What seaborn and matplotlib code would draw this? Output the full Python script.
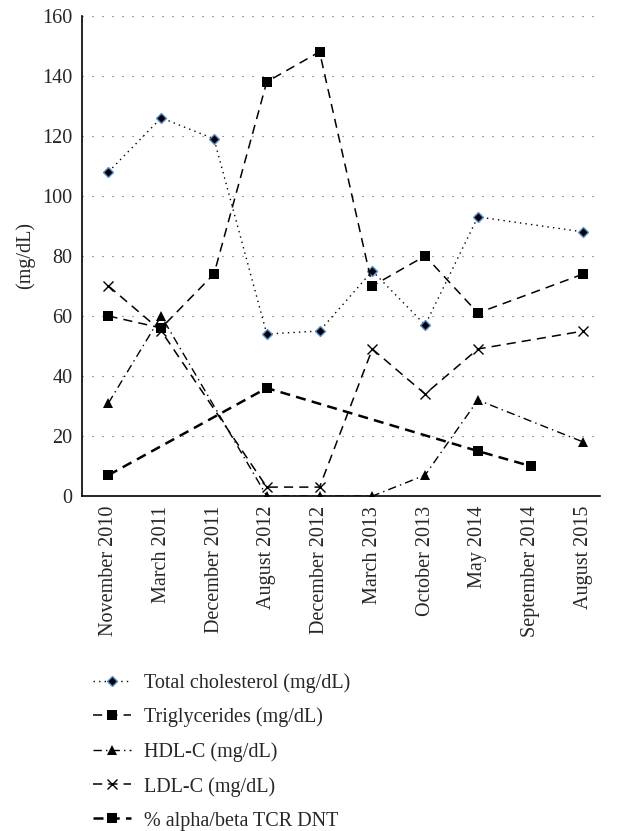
import numpy as np
import pandas as pd
import matplotlib
matplotlib.use('Agg')
import matplotlib.pyplot as plt
import seaborn as sns

# --- data ---
dates = ["November 2010", "March 2011", "December 2011", "August 2012",
         "December 2012", "March 2013", "October 2013", "May 2014",
         "September 2014", "August 2015"]
nan = np.nan
total_chol = [108, 126, 119, 54, 55, 75, 57, 93, nan, 88]
triglycerides = [60, 56, 74, 138, 148, 70, 80, 61, nan, 74]
hdl_c = [31, 60, nan, 0, 0, 0, 7, 32, nan, 18]
ldl_c = [70, 55, nan, 3, 3, 49, 34, 49, nan, 55]
alpha_beta_dnt = [7, nan, nan, 36, nan, nan, nan, 15, 10, nan]

series_names = ["Total cholesterol (mg/dL)", "Triglycerides (mg/dL)",
                "HDL-C (mg/dL)", "LDL-C (mg/dL)", "% alpha/beta TCR DNT"]
series_values = [total_chol, triglycerides, hdl_c, ldl_c, alpha_beta_dnt]
y_ticks = [0, 20, 40, 60, 80, 100, 120, 140, 160]

# --- styles ---
styles = [
    dict(linestyle=(0, (1, 3)), lw=1.0, marker='D', ms=5, mfc='black',
         mec='#5b8fd0', mew=1.0),
    dict(linestyle=(0, (6, 4)), lw=1.1, marker='s', ms=7, mfc='black',
         mec='black', mew=0),
    dict(linestyle=(0, (6, 3, 1, 3)), lw=1.0, marker='^', ms=7, mfc='black',
         mec='black', mew=0),
    dict(linestyle=(0, (6, 4)), lw=1.1, marker='x', ms=7, mfc='black',
         mec='black', mew=1.0),
    dict(linestyle=(0, (4, 2.5)), lw=1.8, marker='s', ms=7, mfc='black',
         mec='black', mew=0),
]

sns.set_theme(style="white")
plt.rcParams['font.family'] = ['Liberation Serif', 'DejaVu Serif']
FS = 14.5

fig = plt.figure(figsize=(6.17, 8.31), dpi=100)
ax = fig.add_axes([0.133, 0.403, 0.84, 0.578])

x = np.arange(len(dates))
for name, vals, st in zip(series_names, series_values, styles):
    df = pd.DataFrame({"x": x, "y": vals}).dropna()
    sns.lineplot(data=df, x="x", y="y", ax=ax, color='black', label=name,
                 sort=False, **st)

ax.set_xlim(-0.5, 9.32)
ax.set_ylim(0, 160)
ax.set_yticks(y_ticks)
ax.set_xticks(x)
ax.set_xticklabels(dates, rotation=90, fontsize=FS)
ax.tick_params(axis='y', labelsize=FS, length=0, pad=7)
ax.tick_params(axis='x', length=0, pad=7)
ax.set_xlabel("")
ax.set_ylabel("(mg/dL)", fontsize=FS)
ax.yaxis.set_label_coords(-0.09, 0.5)

ax.grid(axis='y', color='#555555', linestyle=(0, (1, 8)), lw=0.8)
ax.grid(axis='x', visible=False)
for s in ['top', 'right']:
    ax.spines[s].set_visible(False)
for s in ['left', 'bottom']:
    ax.spines[s].set_color('black')
    ax.spines[s].set_linewidth(1.2)

handles, labels = ax.get_legend_handles_labels()
ax.legend_.remove()
fig.legend(handles, labels, loc='upper left', bbox_to_anchor=(0.138, 0.2),
           frameon=False, fontsize=FS, handlelength=1.9, handletextpad=0.6,
           labelspacing=0.74, borderaxespad=0)

plt.savefig('out.png', dpi=100)
